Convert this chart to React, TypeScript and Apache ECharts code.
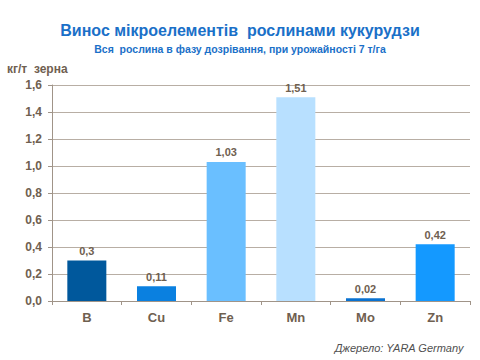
import React, { useEffect, useRef } from "react";
import * as echarts from "echarts";

const categories = ["B", "Cu", "Fe", "Mn", "Mo", "Zn"];
const values = [0.3, 0.11, 1.03, 1.51, 0.02, 0.42];
const labels = ["0,3", "0,11", "1,03", "1,51", "0,02", "0,42"];
const barColors = ["#00589C", "#0A80E0", "#6ABFFF", "#B8E0FF", "#0A72D0", "#1499FF"];

export default function App() {
  const ref = useRef<HTMLDivElement>(null);
  useEffect(() => {
    const chart = echarts.init(ref.current!, null, { renderer: "svg" });
    const textColor = "#6F6050";
    chart.setOption({
      animation: false,
      backgroundColor: "#FFFFFF",
      title: [
        {
          text: "Винос мікроелементів  рослинами кукурудзи",
          left: "center",
          top: 17,
          textStyle: { fontFamily: "Liberation Sans", fontWeight: "bold", fontSize: 16, color: "#1A70C8" },
        },
        {
          text: "Вся  рослина в фазу дозрівання, при урожайності 7 т/га",
          left: "center",
          top: 38,
          textStyle: { fontFamily: "Liberation Sans", fontWeight: "bold", fontSize: 10.5, color: "#1A70C8" },
        },
      ],
      graphic: [
        {
          type: "text",
          left: 7,
          top: 63,
          style: { text: "кг/т  зерна", font: "bold 12px 'Liberation Sans'", fill: textColor },
        },
        {
          type: "text",
          right: 16,
          top: 342,
          style: { text: "Джерело: YARA Germany", font: "italic 11px 'Liberation Sans'", fill: "#505050" },
        },
      ],
      grid: { left: 52, right: 10, top: 85, bottom: 59, containLabel: false },
      xAxis: {
        type: "category",
        data: categories,
        axisLine: { lineStyle: { color: "#A09488", width: 1 } },
        axisTick: { show: true, length: 4, lineStyle: { color: "#A09488" } },
        axisLabel: { color: textColor, fontFamily: "Liberation Sans", fontWeight: "bold", fontSize: 13, margin: 10 },
      },
      yAxis: {
        type: "value",
        min: 0,
        max: 1.6,
        interval: 0.2,
        axisLine: { show: true, lineStyle: { color: "#A09488" } },
        axisTick: { show: true, length: 4, lineStyle: { color: "#A09488" } },
        splitLine: { lineStyle: { color: "#B8AEA4", width: 1 } },
        axisLabel: {
          color: textColor,
          fontFamily: "Liberation Sans",
          fontWeight: "bold",
          fontSize: 12,
          margin: 10,
          formatter: (v: number) => v.toFixed(1).replace(".", ","),
        },
      },
      series: [
        {
          type: "bar",
          barWidth: "56%",
          data: values.map((v, i) => ({ value: v, itemStyle: { color: barColors[i] } })),
          label: {
            show: true,
            position: "top",
            distance: 4,
            color: textColor,
            fontFamily: "Liberation Sans",
            fontWeight: "bold",
            fontSize: 11,
            formatter: (p: any) => labels[p.dataIndex],
          },
        },
      ],
    });
    return () => chart.dispose();
  }, []);
  return <div ref={ref} style={{ width: 480, height: 360, position: "absolute", left: 0, top: 0 }} />;
}
